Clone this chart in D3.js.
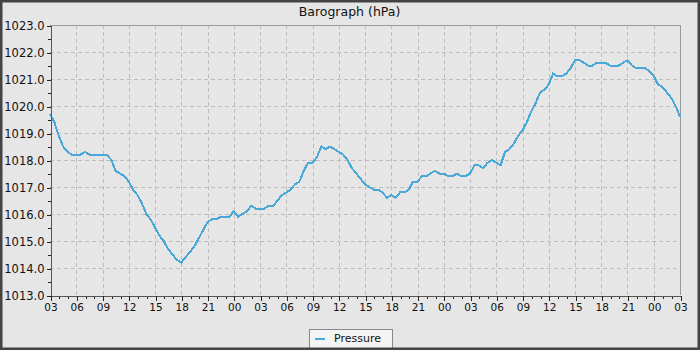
<!DOCTYPE html>
<html>
<head>
<meta charset="utf-8">
<script src="https://cdn.jsdelivr.net/npm/d3@7"></script>
<style>
  html, body { margin: 0; padding: 0; background: #e6e6e6; }
  svg { display: block; font-family: "DejaVu Sans", sans-serif; }
</style>
</head>
<body>
<svg id="chart" width="700" height="350"></svg>
<script>
// ---- DATA ----
const chartTitle = "Barograph (hPa)";
const seriesName = "Pressure";
const startTime = new Date(2024, 0, 1, 3, 0, 0);   // first label "03"
const stepMinutes = 30;                              // sampling interval
const pressure = [
  1019.7, 1019.4, 1018.9, 1018.5, 1018.3, 1018.2, 1018.2, 1018.2, 1018.3, 1018.2,
  1018.2, 1018.2, 1018.2, 1018.2, 1018.0, 1017.6, 1017.5, 1017.4, 1017.2, 1016.9,
  1016.7, 1016.4, 1016.0, 1015.8, 1015.5, 1015.2, 1015.0, 1014.7, 1014.5, 1014.3,
  1014.2, 1014.4, 1014.6, 1014.8, 1015.1, 1015.4, 1015.7, 1015.8, 1015.8, 1015.9,
  1015.9, 1015.9, 1016.1, 1015.9, 1016.0, 1016.1, 1016.3, 1016.2, 1016.2, 1016.2,
  1016.3, 1016.3, 1016.5, 1016.7, 1016.8, 1016.9, 1017.1, 1017.2, 1017.6, 1017.9,
  1017.9, 1018.1, 1018.5, 1018.4, 1018.5, 1018.4, 1018.3, 1018.2, 1018.0, 1017.7,
  1017.5, 1017.3, 1017.1, 1017.0, 1016.9, 1016.9, 1016.8, 1016.6, 1016.7, 1016.6,
  1016.8, 1016.8, 1016.9, 1017.2, 1017.2, 1017.4, 1017.4, 1017.5, 1017.6, 1017.5,
  1017.5, 1017.4, 1017.4, 1017.5, 1017.4, 1017.4, 1017.5, 1017.8, 1017.8, 1017.7,
  1017.9, 1018.0, 1017.9, 1017.8, 1018.3, 1018.4, 1018.6, 1018.9, 1019.1, 1019.4,
  1019.8, 1020.1, 1020.5, 1020.6, 1020.8, 1021.2, 1021.1, 1021.1, 1021.2, 1021.4,
  1021.7, 1021.7, 1021.6, 1021.5, 1021.5, 1021.6, 1021.6, 1021.6, 1021.5, 1021.5,
  1021.5, 1021.6, 1021.7, 1021.5, 1021.4, 1021.4, 1021.4, 1021.3, 1021.1, 1020.8,
  1020.7, 1020.5, 1020.3, 1020.0, 1019.6
];
const yDomain = [1013, 1023];
const yMajorTicks = [1013, 1014, 1015, 1016, 1017, 1018, 1019, 1020, 1021, 1022, 1023];
const spanHours = 72;
const majorHourStep = 3;

// ---- LAYOUT ----
const W = 700, H = 350;
const plot = { left: 50, top: 25, right: 680, bottom: 295 };
const lineColor = "#4aa8d8";

const svg = d3.select("#chart");

svg.append("rect").attr("x", 0).attr("y", 0).attr("width", W).attr("height", H)
  .attr("fill", "#e6e6e6");

const endTime = new Date(+startTime + spanHours * 3600e3);
const x = d3.scaleTime().domain([startTime, endTime]).range([plot.left, plot.right]);
const y = d3.scaleLinear().domain(yDomain).range([plot.bottom, plot.top]);

const data = pressure.map((p, i) => ({ t: new Date(+startTime + i * stepMinutes * 60e3), p }));

const majorTimes = d3.timeHour.every(majorHourStep).range(startTime, new Date(+endTime + 1));
const minorTimes = d3.timeHour.every(1).range(startTime, new Date(+endTime + 1));
const yMinorTicks = d3.range(yDomain[0], yDomain[1] + 0.001, 0.5);

// grid
const grid = svg.append("g").attr("shape-rendering", "crispEdges");
grid.selectAll("line.h").data(yMajorTicks.slice(1, -1)).join("line")
  .attr("x1", plot.left).attr("x2", plot.right)
  .attr("y1", d => Math.round(y(d)) + 0.5).attr("y2", d => Math.round(y(d)) + 0.5)
  .attr("stroke", "#bdbdbd").attr("stroke-dasharray", "4,3");
grid.selectAll("line.v").data(majorTimes.slice(1, -1)).join("line")
  .attr("y1", plot.top).attr("y2", plot.bottom)
  .attr("x1", d => Math.round(x(d)) + 0.5).attr("x2", d => Math.round(x(d)) + 0.5)
  .attr("stroke", "#bdbdbd").attr("stroke-dasharray", "4,3");

// plot frame (top/right)
svg.append("path")
  .attr("d", `M${plot.left},${plot.top + 0.5}H${plot.right + 0.5}V${plot.bottom}`)
  .attr("fill", "none").attr("stroke", "#999").attr("shape-rendering", "crispEdges");

// line
const line = d3.line().curve(d3.curveLinear)
  .x(d => x(d.t)).y(d => y(d.p));
svg.append("path").datum(data)
  .attr("d", line)
  .attr("fill", "none").attr("stroke", lineColor).attr("stroke-width", 2)
  .attr("stroke-linejoin", "miter")
  .attr("shape-rendering", "crispEdges");

// X axis
const fmtHour = d3.timeFormat("%H");
const xMinor = svg.append("g").attr("transform", `translate(0.5,${plot.bottom + 0.5})`)
  .call(d3.axisBottom(x).tickValues(minorTimes).tickSize(3).tickFormat("").tickSizeOuter(0));
xMinor.select(".domain").remove();
xMinor.selectAll("line").attr("stroke", "#222");
const xAxis = svg.append("g").attr("transform", `translate(0.5,${plot.bottom + 0.5})`)
  .call(d3.axisBottom(x).tickValues(majorTimes).tickSize(5).tickSizeOuter(0).tickFormat(fmtHour));
xAxis.select(".domain").attr("stroke", "#555");
xAxis.selectAll("line").attr("stroke", "#222");
xAxis.selectAll("text").attr("font-size", "10.5px").attr("fill", "#111")
  .attr("font-family", "DejaVu Sans").attr("dy", "0.95em").attr("y", 6);
xAxis.attr("shape-rendering", "crispEdges");
xMinor.attr("shape-rendering", "crispEdges");

// Y axis
const yMinor = svg.append("g").attr("transform", `translate(${plot.left + 0.5},0.5)`)
  .call(d3.axisLeft(y).tickValues(yMinorTicks).tickSize(3).tickFormat("").tickSizeOuter(0));
yMinor.select(".domain").remove();
yMinor.selectAll("line").attr("stroke", "#222");
const yAxis = svg.append("g").attr("transform", `translate(${plot.left + 0.5},0.5)`)
  .call(d3.axisLeft(y).tickValues(yMajorTicks).tickSize(4).tickSizeOuter(0).tickFormat(d3.format(".1f")));
yAxis.select(".domain").attr("stroke", "#555");
yAxis.selectAll("line").attr("stroke", "#222");
yAxis.selectAll("text").attr("font-size", "11.5px").attr("fill", "#111")
  .attr("font-family", "DejaVu Sans").attr("x", -6);
yAxis.attr("shape-rendering", "crispEdges");
yMinor.attr("shape-rendering", "crispEdges");

// title
svg.append("text").attr("x", 349.5).attr("y", 16).attr("text-anchor", "middle")
  .attr("font-size", "12.5px").attr("fill", "#111").text(chartTitle);

// legend
const lg = svg.append("g");
lg.append("rect").attr("x", 309.5).attr("y", 329.5).attr("width", 83).attr("height", 20)
  .attr("fill", "#f4f4f4").attr("stroke", "#888").attr("shape-rendering", "crispEdges");
lg.append("line").attr("x1", 315).attr("x2", 325).attr("y1", 338.5).attr("y2", 338.5)
  .attr("stroke", lineColor).attr("stroke-width", 2).attr("shape-rendering", "crispEdges");
lg.append("text").attr("x", 334).attr("y", 342).attr("font-size", "11px").attr("fill", "#111")
  .text(seriesName);

// outer border
svg.append("rect").attr("x", 1).attr("y", 1).attr("width", W - 2).attr("height", H - 2)
  .attr("fill", "none").attr("stroke", "#444").attr("stroke-width", 3);
</script>
</body>
</html>
